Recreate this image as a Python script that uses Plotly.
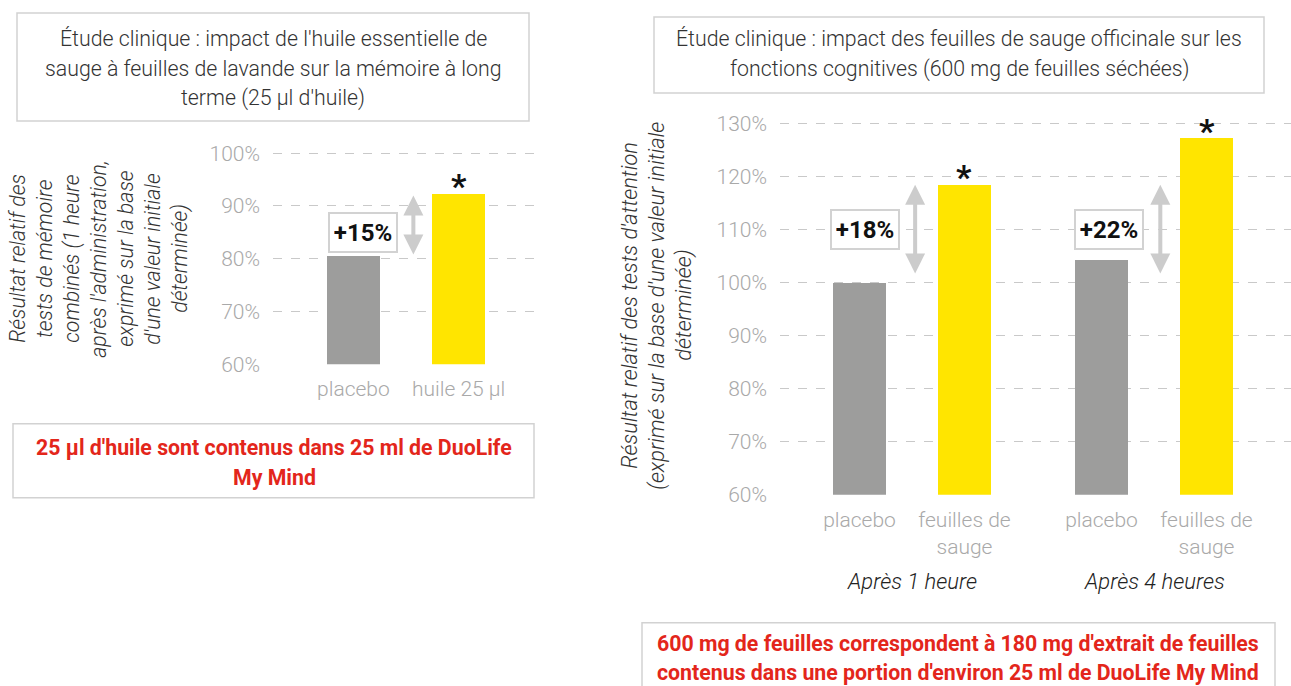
import plotly.graph_objects as go

# ---------------- data ----------------
left_categories = ["placebo", "huile 25 µl"]
left_values = [80.5, 92.3]
left_increase = "+15%"
left_ticks = [60, 70, 80, 90, 100]

right_groups = ["Après 1 heure", "Après 4 heures"]
right_categories = ["placebo", "feuilles de<br>sauge"]
right_placebo = [100.0, 104.3]
right_sage = [118.5, 127.2]
right_increase = ["+18%", "+22%"]
right_arrow_span = [101.5, 118.5]
right_ticks = [60, 70, 80, 90, 100, 110, 120, 130]

left_title = ["Étude clinique : impact de l'huile essentielle de",
              "sauge à feuilles de lavande sur la mémoire à long",
              "terme (25 µl d'huile)"]
right_title = ["Étude clinique : impact des feuilles de sauge officinale sur les",
               "fonctions cognitives (600 mg de feuilles séchées)"]
left_ytitle = ["Résultat relatif des", "tests de mémoire", "combinés (1 heure",
               "après l'administration,", "exprimé sur la base",
               "d'une valeur initiale", "déterminée)"]
right_ytitle = ["Résultat relatif des tests d'attention",
                "(exprimé sur la base d'une valeur initiale",
                "déterminée)"]
left_note = ["25 µl d'huile sont contenus dans 25 ml de DuoLife", "My Mind"]
right_note = ["600 mg de feuilles correspondent à 180 mg d'extrait de feuilles",
              "contenus dans une portion d'environ 25 ml de DuoLife My Mind"]

# ---------------- style ----------------
W, H = 1291, 686
HE = 673.4          # effective vertical extent used for paper placement
GREY = "#9d9d9c"
YELLOW = "#ffe500"
GRID = "#c9c9c9"
TICK = "#a9a9a9"
DARK = "#333333"
RED = "#e3261b"
BORDER = "#d2d2d2"
FONT = "Roboto"
GROUP_STEP = 2.305


def px(x):
    return x / W


def py(y):
    return 1 - y / HE


fig = go.Figure()

# left chart bars
fig.add_trace(go.Bar(x=list(range(len(left_categories))), y=left_values,
                     marker=dict(color=[GREY, YELLOW], line_width=0), width=0.5,
                     xaxis="x", yaxis="y", hoverinfo="skip"))

# right chart bars
rx, ry, rc = [], [], []
for g in range(len(right_groups)):
    rx += [g * GROUP_STEP, g * GROUP_STEP + 1]
    ry += [right_placebo[g], right_sage[g]]
    rc += [GREY, YELLOW]
fig.add_trace(go.Bar(x=rx, y=ry, marker=dict(color=rc, line_width=0), width=0.5,
                     xaxis="x2", yaxis="y2", hoverinfo="skip"))

tickfont = dict(family=FONT, size=21, color=TICK, weight=300)
common_y = dict(showgrid=True, gridcolor=GRID, griddash="dash",
                gridwidth=1, zeroline=False, showline=False, ticks="",
                tickfont=tickfont, ticklabelstandoff=12, fixedrange=True)
common_x = dict(showgrid=False, zeroline=False, showline=False, ticks="",
                tickfont=tickfont, ticklabelstandoff=10, fixedrange=True)

fig.update_layout(
    width=W, height=H, margin=dict(l=0, r=0, t=0, b=0),
    paper_bgcolor="white", plot_bgcolor="white", showlegend=False,
    bargap=0,
    xaxis=dict(domain=[px(273), px(539)], range=[-0.764, 1.764],
               tickvals=list(range(len(left_categories))), ticktext=left_categories,
               anchor="y", **common_x),
    yaxis=dict(domain=[py(363.5), py(141.7)], range=[60, 102], tickvals=left_ticks,
               ticktext=[f"{v}%" for v in left_ticks], anchor="x", **common_y),
    xaxis2=dict(domain=[px(780), 1.0], range=[-0.757, -0.757 + 511 / 105],
                tickvals=rx, ticktext=right_categories * len(right_groups),
                anchor="y2", **common_x),
    yaxis2=dict(domain=[py(494), py(112.4)], range=[60, 132], tickvals=right_ticks,
                ticktext=[f"{v}%" for v in right_ticks], anchor="x2", **common_y),
)

shapes = []
ann = []

# title boxes
shapes.append(dict(type="rect", xref="paper", yref="paper", x0=px(17), x1=px(529),
                   y0=py(120), y1=py(12), line=dict(color=BORDER, width=1.5)))
shapes.append(dict(type="rect", xref="paper", yref="paper", x0=px(654), x1=px(1264),
                   y0=py(92), y1=py(16), line=dict(color=BORDER, width=1.5)))
for i, t in enumerate(left_title):
    ann.append(dict(text=t, xref="paper", yref="paper", x=px(273), y=py(38 + 29.5 * i),
                    xanchor="center", yanchor="middle", showarrow=False,
                    font=dict(family=FONT, size=21.3, color=DARK, weight=300)))
for i, t in enumerate(right_title):
    ann.append(dict(text=t, xref="paper", yref="paper", x=px(959), y=py(38 + 30 * i),
                    xanchor="center", yanchor="middle", showarrow=False,
                    font=dict(family=FONT, size=21.3, color=DARK, weight=300)))

# y-axis titles
for i, t in enumerate(left_ytitle):
    ann.append(dict(text=t, xref="paper", yref="paper", x=px(18 + 27 * i), y=py(258),
                    xanchor="center", yanchor="middle", showarrow=False, textangle=-90,
                    font=dict(family=FONT, size=21.3, color=DARK, style="italic", weight=300)))
for i, t in enumerate(right_ytitle):
    ann.append(dict(text=t, xref="paper", yref="paper", x=px(630 + 27 * i), y=py(305),
                    xanchor="center", yanchor="middle", showarrow=False, textangle=-90,
                    font=dict(family=FONT, size=21.8, color=DARK, style="italic", weight=300)))

# note boxes
shapes.append(dict(type="rect", xref="paper", yref="paper", x0=px(13), x1=px(534),
                   y0=py(497), y1=py(423), line=dict(color=BORDER, width=1.5)))
shapes.append(dict(type="rect", xref="paper", yref="paper", x0=px(642), x1=px(1275),
                   y0=py(720), y1=py(622), line=dict(color=BORDER, width=1.5)))
for i, t in enumerate(left_note):
    ann.append(dict(text="<b>" + t + "</b>", xref="paper", yref="paper", x=px(274),
                    y=py(447 + 30 * i), xanchor="center", yanchor="middle", showarrow=False,
                    font=dict(family=FONT, size=21.3, color=RED)))
for i, t in enumerate(right_note):
    ann.append(dict(text="<b>" + t + "</b>", xref="paper", yref="paper", x=px(958),
                    y=py(643 + 29 * i), xanchor="center", yanchor="middle", showarrow=False,
                    font=dict(family=FONT, size=21.3, color=RED)))

# group labels under right chart
for g, t in enumerate(right_groups):
    ann.append(dict(text=t, xref="x2", yref="paper", x=g * GROUP_STEP + 0.5, y=py(581),
                    xanchor="center", yanchor="middle", showarrow=False,
                    font=dict(family=FONT, size=22, color="#222222", style="italic", weight=300)))


def pct_box(text, xref, yref, x, y):
    return dict(text="<b>" + text + "</b>", xref=xref, yref=yref, x=x, y=y,
                xanchor="center", yanchor="middle", showarrow=False,
                font=dict(family=FONT, size=24, color="#111111"),
                bgcolor="white", bordercolor=BORDER, borderwidth=2, borderpad=4,
                width=58, height=29)


def arrow(xref, yref, x, y0, y1):
    return dict(text="", xref=xref, yref=yref, axref=xref, ayref=yref, x=x, y=y1,
                ax=x, ay=y0, showarrow=True, arrowhead=2, arrowside="end+start",
                arrowsize=1.0, arrowwidth=4, arrowcolor="#cccccc", standoff=0,
                startstandoff=0)


def star(xref, yref, x, y):
    return dict(text="<b>*</b>", xref=xref, yref=yref, x=x, y=y, xanchor="center",
                yanchor="middle", showarrow=False, yshift=8,
                font=dict(family=FONT, size=34, color="#111111"))


# left chart annotations
ann.append(arrow("x", "y", 0.57, left_values[0], left_values[1] - 0.3))
ann.append(pct_box(left_increase, "x", "y", 0.09, 85.0))
ann.append(star("x", "y", 1, left_values[1]))

# right chart annotations
for g in range(len(right_groups)):
    base = g * GROUP_STEP
    ann.append(arrow("x2", "y2", base + 0.53 + 0.03 * g, right_arrow_span[0], right_arrow_span[1]))
    ann.append(pct_box(right_increase[g], "x2", "y2", base + 0.05 + 0.02 * g, 110.0))
    ann.append(star("x2", "y2", base + 1, right_sage[g]))

fig.update_layout(shapes=shapes, annotations=ann)

post = """
document.documentElement.style.margin='0';
document.documentElement.style.overflow='hidden';
document.body.style.margin='0';
document.body.style.overflow='hidden';
"""
fig.write_html("out.html", config={"displayModeBar": False}, post_script=post)
